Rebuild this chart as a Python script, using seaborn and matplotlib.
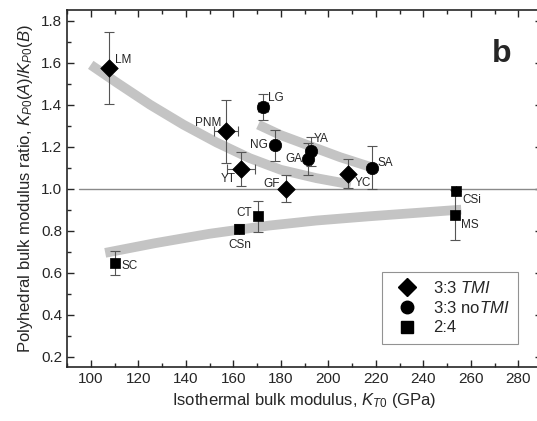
import numpy as np
import pandas as pd
import matplotlib
matplotlib.use("Agg")
import matplotlib.pyplot as plt
from matplotlib.lines import Line2D
from matplotlib.ticker import MultipleLocator, FormatStrFormatter
import seaborn as sns

# 3:3 with TMI (diamonds)
tmi_names = ["LM", "PNM", "YT", "GF", "YC"]
tmi_k = [107.7, 157.1, 163.2, 182.1, 208.5]
tmi_ratio = [1.575, 1.273, 1.095, 1.0, 1.071]
tmi_yerr = [0.17, 0.15, 0.08, 0.065, 0.068]
tmi_xerr = [0, 5, 6, 0, 0]

# 3:3 without TMI (circles)
notmi_names = ["LG", "NG", "GA", "YA", "SA"]
notmi_k = [172.5, 177.5, 191.5, 192.6, 218.3]
notmi_ratio = [1.389, 1.206, 1.141, 1.178, 1.10]
notmi_yerr = [0.063, 0.075, 0.075, 0.07, 0.104]
notmi_xerr = [2, 0, 0, 0, 0]

# 2:4 (squares)
sq_names = ["SC", "CSn", "CT", "CSi", "MS"]
sq_k = [110.1, 162.6, 170.4, 253.7, 253.3]
sq_ratio = [0.646, 0.81, 0.868, 0.99, 0.873]
sq_yerr = [0.058, 0.02, 0.075, 0.0, 0.12]
sq_xerr = [0, 0, 0, 0, 0]

# grey trend bands
band1_k = [100, 111, 125, 139, 153, 167, 180, 195, 209.5]
band1_r = [1.59, 1.505, 1.40, 1.305, 1.22, 1.145, 1.09, 1.05, 1.02]
band2_k = [170.5, 180, 191.9, 205, 219.3]
band2_r = [1.305, 1.255, 1.205, 1.15, 1.098]
band3_k = [106.1, 127, 150, 175, 195, 217, 256]
band3_r = [0.694, 0.74, 0.785, 0.824, 0.848, 0.868, 0.90]

# label offsets in pixels
offsets = {
    "LM": (6, 8, "left"), "PNM": (-5, 8, "right"), "YT": (-5, -10, "right"),
    "GF": (-6, 5, "right"), "YC": (6, -9, "left"), "LG": (5, 9, "left"),
    "NG": (-7, 0, "right"), "GA": (-6, 0, "right"), "YA": (3, 12, "left"),
    "SA": (6, 5, "left"), "CSi": (7, -9, "left"), "MS": (6, -10, "left"),
    "SC": (7, -3, "left"), "CSn": (0, -16, "center"), "CT": (-6, 3, "right"),
}

sns.set_style("ticks")
plt.rcParams["font.family"] = ["Liberation Sans", "DejaVu Sans"]
plt.rcParams["mathtext.fontset"] = "custom"
plt.rcParams["mathtext.rm"] = "Liberation Sans"
plt.rcParams["mathtext.it"] = "Liberation Sans:italic"

df = pd.DataFrame({
    "name": tmi_names + notmi_names + sq_names,
    "k": tmi_k + notmi_k + sq_k,
    "ratio": tmi_ratio + notmi_ratio + sq_ratio,
    "yerr": tmi_yerr + notmi_yerr + sq_yerr,
    "xerr": tmi_xerr + notmi_xerr + sq_xerr,
    "group": ["tmi"] * 5 + ["notmi"] * 5 + ["sq"] * 5,
})

fig = plt.figure(figsize=(5.37, 4.21), dpi=100)
ax = fig.add_axes([67 / 537, 54 / 421, 475 / 537, 356.7 / 421])

band_color = "#c4c4c4"
for bk, br in [(band1_k, band1_r), (band2_k, band2_r), (band3_k, band3_r)]:
    sns.lineplot(x=bk, y=br, color=band_color, linewidth=7, ax=ax, zorder=1,
                 solid_capstyle="butt")

ax.plot([95, 290], [1.0, 1.0], color="#8a8a8a", linewidth=1, zorder=1.5)

ax.errorbar(df["k"], df["ratio"], yerr=df["yerr"], xerr=df["xerr"], fmt="none",
            ecolor="#555555", elinewidth=0.8, capsize=3.5, capthick=0.8, zorder=2)

markers = {"tmi": "D", "notmi": "o", "sq": "s"}
sizes = {"tmi": 80, "notmi": 80, "sq": 60}
for g, sub in df.groupby("group"):
    sns.scatterplot(data=sub, x="k", y="ratio", marker=markers[g], s=sizes[g],
                    color="black", edgecolor="black", linewidth=0.5, ax=ax,
                    zorder=3, legend=False)

for _, row in df.iterrows():
    dx, dy, ha = offsets[row["name"]]
    ax.annotate(row["name"], (row["k"], row["ratio"]), xytext=(dx, dy),
                textcoords="offset pixels", ha=ha, va="center", fontsize=8.5)

ax.text(273, 1.64, "b", fontsize=23, fontweight="bold", ha="center", va="center")

ax.set_xlim(90, 290)
ax.set_ylim(0.15, 1.85)
ax.xaxis.set_major_locator(MultipleLocator(20))
ax.xaxis.set_minor_locator(MultipleLocator(10))
ax.yaxis.set_major_locator(MultipleLocator(0.2))
ax.yaxis.set_minor_locator(MultipleLocator(0.1))
ax.yaxis.set_major_formatter(FormatStrFormatter("%.1f"))
ax.set_xticks(np.arange(100, 281, 20))
ax.set_yticks(np.arange(0.2, 1.81, 0.2))
ax.tick_params(which="both", direction="in", top=True, right=True, labelsize=11)
ax.tick_params(which="major", length=5, width=1)
ax.tick_params(which="minor", length=3, width=1)
for s in ax.spines.values():
    s.set_linewidth(1.2)

ax.set_xlabel("Isothermal bulk modulus, $K_{T0}$ (GPa)", fontsize=12, labelpad=4)
ax.set_ylabel("Polyhedral bulk modulus ratio, $K_{P0}(A)/K_{P0}(B)$", fontsize=12, labelpad=4)

handles = [
    Line2D([], [], marker="D", color="black", linestyle="none", markersize=9),
    Line2D([], [], marker="o", color="black", linestyle="none", markersize=9),
    Line2D([], [], marker="s", color="black", linestyle="none", markersize=8),
]
labels = ["3:3 $\\mathit{TMI}$", "3:3 no$\\mathit{TMI}$", "2:4"]
leg = ax.legend(handles, labels, loc="lower right", bbox_to_anchor=(0.968, 0.042),
                fontsize=12, frameon=True, fancybox=False, edgecolor="#777777",
                handletextpad=0.6, borderpad=0.5, labelspacing=0.25)
leg.get_frame().set_linewidth(0.8)

fig.savefig("out.png", dpi=100)
